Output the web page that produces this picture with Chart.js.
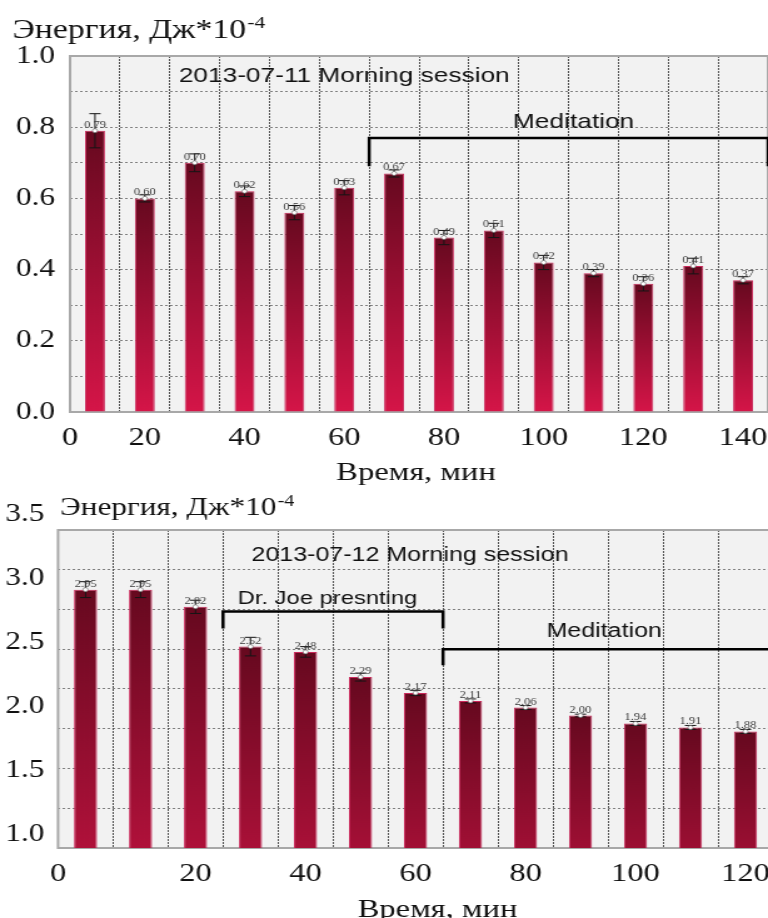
<!DOCTYPE html>
<html lang="ru">
<head>
<meta charset="utf-8">
<title>Энергия, Дж*10-4 — Morning sessions</title>
<script src="https://cdn.jsdelivr.net/npm/chart.js@4.4.1/dist/chart.umd.min.js"></script>
<style>
  html, body { margin: 0; padding: 0; background: #fff; overflow: hidden; width: 768px; height: 918px; }
  canvas { position: absolute; left: 0; }
</style>
</head>
<body>
<!-- the source picture is stretched sideways, so the canvases are too -->
<canvas id="chartTop" width="614" height="490" style="top:0;width:768px;height:490px"></canvas>
<canvas id="chartBottom" width="618" height="440" style="top:490px;width:772.5px;height:440px"></canvas>
<script>
'use strict';

/* ---------- 2013-07-11 Morning session ---------- */
const timesTop   = [10, 20, 30, 40, 50, 60, 70, 80, 90, 100, 110, 120, 130, 140];
const energyTop  = [0.79, 0.60, 0.70, 0.62, 0.56, 0.63, 0.67, 0.49, 0.51, 0.42, 0.39, 0.36, 0.41, 0.37];
const errorTop   = [0.048, 0.01, 0.025, 0.015, 0.02, 0.02, 0.01, 0.02, 0.02, 0.02, 0.01, 0.02, 0.022, 0.01];
const xTicksTop  = [0, 20, 40, 60, 80, 100, 120, 140];
const yTicksTop  = [0.0, 0.2, 0.4, 0.6, 0.8, 1.0];

/* ---------- 2013-07-12 Morning session ---------- */
const timesBottom  = [0, 10, 20, 30, 40, 50, 60, 70, 80, 90, 100, 110, 120];
const energyBottom = [2.95, 2.95, 2.82, 2.52, 2.48, 2.29, 2.17, 2.11, 2.06, 2.00, 1.94, 1.91, 1.88];
const errorBottom  = [0.06, 0.06, 0.05, 0.07, 0.04, 0.03, 0.02, 0.015, 0.015, 0.01, 0.015, 0.015, 0.015];
const xTicksBottom = [0, 20, 40, 60, 80, 100, 120];
const yTicksBottom = [1.0, 1.5, 2.0, 2.5, 3.0, 3.5];

const BAR_TOP    = '#66091f';
const BAR_BOTTOM = '#d51548';
const SERIF = '"Liberation Serif", "Times New Roman", serif';
const SANS  = '"Liberation Sans", Arial, sans-serif';

Chart.defaults.font.family = SERIF;
Chart.defaults.color = '#111';

// each bar fades from dark at its top to bright crimson at zero
function barGradient(c) {
  const chart = c.chart;
  const y = chart.scales.y;
  if (c.type !== 'data' || !y || !c.parsed) return BAR_BOTTOM;
  const y0 = y.getPixelForValue(c.parsed.y);
  const y1 = y.getPixelForValue(0);
  if (!isFinite(y0) || !isFinite(y1) || y0 === y1) return BAR_BOTTOM;
  const g = chart.ctx.createLinearGradient(0, y0, 0, y1);
  g.addColorStop(0, BAR_TOP);
  g.addColorStop(1, BAR_BOTTOM);
  return g;
}

const plotFrame = {
  id: 'plotFrame',
  beforeDraw(chart) {
    const { ctx, chartArea: a } = chart;
    ctx.save();
    ctx.fillStyle = '#f2f2f2';
    ctx.fillRect(a.left, a.top, a.right - a.left, a.bottom - a.top);
    ctx.restore();
  },
  beforeDatasetsDraw(chart) {
    const { ctx, chartArea: a } = chart;
    ctx.save();
    ctx.strokeStyle = '#a8a8a8';
    ctx.lineWidth = 2;
    ctx.strokeRect(a.left, a.top, a.right - a.left, a.bottom - a.top);
    ctx.restore();
  }
};

// error bars, white markers and the small value labels on top of the bars
const errorBars = {
  id: 'errorBars',
  afterDatasetsDraw(chart, args, opts) {
    const { ctx, scales: { x, y } } = chart;
    const pts = chart.data.datasets[0].data;
    ctx.save();
    pts.forEach((p, i) => {
      const px  = x.getPixelForValue(p.x);
      const top = y.getPixelForValue(p.y);
      const hi  = y.getPixelForValue(p.y + opts.errors[i]);
      const lo  = y.getPixelForValue(p.y - opts.errors[i]);
      ctx.strokeStyle = '#151515';
      ctx.lineWidth = 1;
      ctx.beginPath();
      ctx.moveTo(px, hi); ctx.lineTo(px, lo);
      ctx.moveTo(px - 4.5, hi); ctx.lineTo(px + 4.5, hi);
      ctx.moveTo(px - 4.5, lo); ctx.lineTo(px + 4.5, lo);
      ctx.stroke();

      ctx.beginPath();
      ctx.arc(px, top, 2, 0, Math.PI * 2);
      ctx.fillStyle = '#fff';
      ctx.fill();
      ctx.strokeStyle = '#666';
      ctx.lineWidth = 0.6;
      ctx.stroke();

      ctx.fillStyle = '#3a3a3a';
      ctx.font = '10px ' + SERIF;
      ctx.textAlign = 'center';
      ctx.textBaseline = 'alphabetic';
      ctx.fillText(p.y.toFixed(2), px, top - 3);
    });
    ctx.restore();
  }
};

// header, panel title, brackets with their captions, x axis title
const notes = {
  id: 'notes',
  afterDraw(chart, args, o) {
    const { ctx, scales: { x, y }, chartArea: a } = chart;
    ctx.save();
    ctx.fillStyle = '#111';
    ctx.textBaseline = 'alphabetic';

    const h = o.header;
    ctx.textAlign = 'left';
    ctx.font = h.size + 'px ' + SERIF;
    ctx.fillText(h.text, h.left, h.baseline);
    const w = ctx.measureText(h.text).width;
    ctx.font = h.supSize + 'px ' + SERIF;
    ctx.fillText(h.sup, h.left + w + 1, h.baseline - h.supRaise);

    ctx.textAlign = 'center';
    ctx.font = o.axisTitle.size + 'px ' + SERIF;
    ctx.fillText(o.axisTitle.text, x.getPixelForValue(o.axisTitle.x), a.bottom + o.axisTitle.below);

    o.labels.forEach(l => {
      ctx.font = l.size + 'px ' + SANS;
      ctx.fillText(l.text, x.getPixelForValue(l.x), y.getPixelForValue(l.y));
    });

    ctx.strokeStyle = '#000';
    ctx.lineWidth = 2.5;
    ctx.lineJoin = 'miter';
    o.brackets.forEach(b => {
      const x0 = x.getPixelForValue(b.from), x1 = x.getPixelForValue(b.to);
      const yl = y.getPixelForValue(b.level), yd = y.getPixelForValue(b.drop);
      ctx.beginPath();
      ctx.moveTo(x0, yd);
      ctx.lineTo(x0, yl);
      ctx.lineTo(x1, yl);
      if (b.closed) ctx.lineTo(x1, yd);
      ctx.stroke();
    });
    ctx.restore();
  }
};

function buildChart(id, o) {
  const step = o.times[1] - o.times[0];
  const xMin = o.times[0] - step / 2;
  const xMax = o.times[o.times.length - 1] + step / 2;
  const edges = [xMin, ...o.times.map(t => t + step / 2)];

  return new Chart(document.getElementById(id), {
    type: 'bar',
    data: {
      datasets: [{
        data: o.times.map((t, i) => ({ x: t, y: o.values[i] })),
        backgroundColor: barGradient,
        borderColor: '#c9285a',
        borderWidth: 1,
        barPercentage: o.barPct,
        categoryPercentage: 1,
        xAxisID: 'x',
        yAxisID: 'y'
      }]
    },
    options: {
      responsive: false,
      animation: false,
      events: [],
      layout: { padding: { top: o.padTop, left: 0, right: 0, bottom: 0 } },
      plugins: {
        legend: { display: false },
        tooltip: { enabled: false },
        errorBars: { errors: o.errors },
        notes: o.notes
      },
      scales: {
        x: {
          type: 'linear', position: 'bottom', min: xMin, max: xMax, offset: false,
          grid: { display: false, drawTicks: false, offset: false },
          border: { display: false },
          ticks: { autoSkip: false, maxRotation: 0, padding: o.xTickPad, font: { size: 26 }, color: '#111',
                   callback: (v, i) => String(o.xTicks[i]) },
          afterBuildTicks: s => { s.ticks = o.xTicks.map(v => ({ value: v === 0 ? xMin : v })); },
          afterFit: s => { s.height = o.xAxisHeight; s.paddingLeft = 0; s.paddingRight = 0; }
        },
        xg: {
          type: 'linear', position: 'bottom', min: xMin, max: xMax, offset: false,
          grid: { color: 'rgba(45,45,45,0.8)', lineWidth: 1, drawTicks: false, offset: false },
          border: { display: false, dash: [2, 1] },
          ticks: { display: false },
          afterBuildTicks: s => { s.ticks = edges.map(v => ({ value: v })); },
          afterFit: s => { s.height = 0; s.paddingLeft = 0; s.paddingRight = 0; }
        },
        y: {
          type: 'linear', position: 'left', min: o.yMin, max: o.yMax,
          grid: { color: 'rgba(80,80,80,0.7)', lineWidth: 1, drawTicks: false },
          border: { display: false, dash: [2, 2] },
          ticks: { display: false },
          afterBuildTicks: s => {
            const t = [];
            for (let v = o.yMin; v <= o.yMax + 1e-9; v += o.yGridStep) t.push({ value: +v.toFixed(4) });
            s.ticks = t;
          },
          afterFit: s => { s.width = 0; s.paddingTop = 0; s.paddingBottom = 0; }
        },
        yl: {
          type: 'linear', position: 'left', min: o.labelMin, max: o.labelMax,
          grid: { display: false, drawTicks: false },
          border: { display: false },
          ticks: { autoSkip: false, padding: o.yTickPad, font: { size: 25 }, color: '#111',
                   callback: v => v.toFixed(1) },
          afterBuildTicks: s => { s.ticks = o.yTicks.map(v => ({ value: v })); },
          afterFit: s => { s.width = o.yAxisWidth; s.paddingTop = 0; s.paddingBottom = 0; }
        }
      }
    },
    plugins: [plotFrame, errorBars, notes]
  });
}

buildChart('chartTop', {
  times: timesTop, values: energyTop, errors: errorTop,
  xTicks: xTicksTop, yTicks: yTicksTop,
  yMin: 0, yMax: 1, yGridStep: 0.1, labelMin: 0, labelMax: 1,
  barPct: 0.4, padTop: 56, xAxisHeight: 78, yAxisWidth: 56, xTickPad: 11, yTickPad: 12,
  notes: {
    header: { text: 'Энергия, Дж*10', sup: '-4', left: 10, baseline: 38, size: 27, supSize: 17, supRaise: 10 },
    axisTitle: { text: 'Время, мин', x: 74.4, below: 68, size: 26 },
    labels: [
      { text: '2013-07-11 Morning session', x: 60, y: 0.927, size: 21 },
      { text: 'Meditation', x: 106, y: 0.798, size: 21 }
    ],
    brackets: [
      { from: 65, to: 145, level: 0.77, drop: 0.69, closed: true }
    ]
  }
});

buildChart('chartBottom', {
  times: timesBottom, values: energyBottom, errors: errorBottom,
  xTicks: xTicksBottom, yTicks: yTicksBottom,
  yMin: 1.0, yMax: 3.4, yGridStep: 0.3, labelMin: 0.891, labelMax: 3.375,
  barPct: 0.42, padTop: 40, xAxisHeight: 82, yAxisWidth: 46.4, xTickPad: 10.4, yTickPad: 11,
  notes: {
    header: { text: 'Энергия, Дж*10', sup: '-4', left: 48, baseline: 25, size: 25, supSize: 16, supRaise: 9 },
    axisTitle: { text: 'Время, мин', x: 64, below: 69, size: 26 },
    labels: [
      { text: '2013-07-12 Morning session', x: 59, y: 3.169, size: 20 },
      { text: 'Dr. Joe presnting', x: 44, y: 2.845, size: 19 },
      { text: 'Meditation', x: 94.3, y: 2.589, size: 20 }
    ],
    brackets: [
      { from: 25, to: 65, level: 2.785, drop: 2.656, closed: true },
      { from: 65, to: 125, level: 2.50, drop: 2.38, closed: false }
    ]
  }
});
</script>
</body>
</html>
